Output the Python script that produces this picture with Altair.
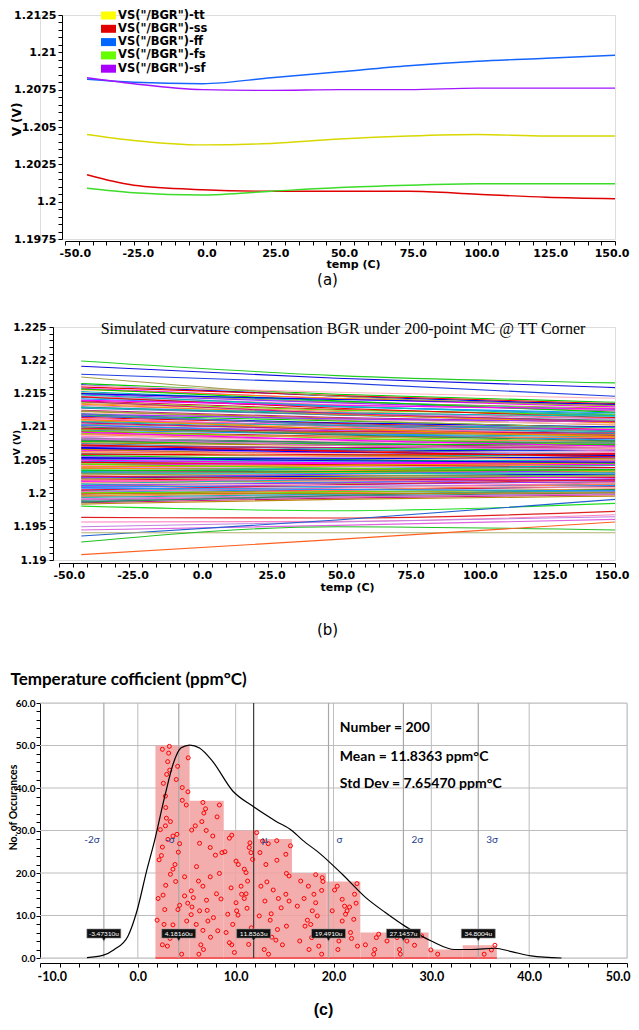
import altair as alt
import pandas as pd

# ------------------------------------------------------------------ fonts
FONT_A = "DejaVu Sans"
FONT_SERIF = "Liberation Serif"
FONT_C = "Lato"
FONT_C_AX = "Liberation Sans Narrow, Lato"

# ------------------------------------------------------------------ (a) process corners
corner_temps = [-42, -25, 0, 25, 50, 75, 100, 125, 150]
corner_names = ['VS("/BGR")-tt', 'VS("/BGR")-ss', 'VS("/BGR")-ff', 'VS("/BGR")-fs', 'VS("/BGR")-sf']
corner_colors = ["#D8D800", "#E00000", "#1464FF", "#3CDC28", "#A414FF"]
legend_swatch = ["#FFFF00", "#E00000", "#0066FF", "#66FF00", "#AA00FF"]
v_tt = [1.2045, 1.2041, 1.2038, 1.2039, 1.2042, 1.2044, 1.2045, 1.2044, 1.2044]
v_ss = [1.2018, 1.2011, 1.2008, 1.2007, 1.2007, 1.2007, 1.2005, 1.2003, 1.2002]
v_ff = [1.2082, 1.2080, 1.2079, 1.2083, 1.2087, 1.2091, 1.2094, 1.2096, 1.2098]
v_fs = [1.2009, 1.2006, 1.20045, 1.2007, 1.20095, 1.2011, 1.2012, 1.2012, 1.2012]
v_sf = [1.2083, 1.2079, 1.2075, 1.20745, 1.2075, 1.2075, 1.2076, 1.2076, 1.2076]

# ------------------------------------------------------------------ (b) 200-point Monte Carlo
mc_title = "Simulated curvature compensation BGR under 200-point MC @ TT Corner"
mc_temps = [-42, 50, 150]
band_start = [
    1.2165, 1.2163, 1.2160, 1.2158, 1.2156, 1.2153, 1.2151, 1.2149, 1.2146, 1.2144,
    1.2142, 1.2139, 1.2137, 1.2135, 1.2132, 1.2130, 1.2128, 1.2125, 1.2123, 1.2121,
    1.2118, 1.2116, 1.2114, 1.2111, 1.2109, 1.2107, 1.2104, 1.2102, 1.2100, 1.2097,
    1.2095, 1.2093, 1.2090, 1.2088, 1.2086, 1.2083, 1.2081, 1.2079, 1.2076, 1.2074,
    1.2072, 1.2069, 1.2067, 1.2065, 1.2062, 1.2060, 1.2058, 1.2055, 1.2053, 1.2051,
    1.2048, 1.2046, 1.2044, 1.2041, 1.2039, 1.2037, 1.2034, 1.2032, 1.2030, 1.2027,
    1.2025, 1.2023, 1.2020, 1.2018, 1.2016, 1.2013, 1.2011, 1.2009, 1.2006, 1.2004,
    1.2002, 1.1999, 1.1997, 1.1995, 1.1992, 1.1990, 1.1988, 1.1986, 1.1984,
    1.2162, 1.2157, 1.2150, 1.2145, 1.2140, 1.2134, 1.2129, 1.2124, 1.2119, 1.2113,
    1.2108, 1.2103, 1.2098, 1.2094, 1.2089, 1.2084, 1.2080, 1.2075, 1.2071, 1.2066,
    1.2061, 1.2057, 1.2052, 1.2047, 1.2043, 1.2038, 1.2033, 1.2029, 1.2024, 1.2019,
    1.2015, 1.2010, 1.2005, 1.2001, 1.1996, 1.1991, 1.1987,
    1.2117, 1.2106, 1.2096, 1.2087, 1.2078, 1.2068, 1.2059, 1.2050, 1.2040, 1.2031,
    1.2022, 1.2012, 1.2003, 1.1994, 1.2008, 1.2026, 1.2044, 1.2063, 1.2082, 1.2100,
    1.2120, 1.2138, 1.2000, 1.2016, 1.2035, 1.2054, 1.2073, 1.2092, 1.2111, 1.2148,
]
band_mid = [
    1.2149, 1.2146, 1.2147, 1.2142, 1.2143, 1.2138, 1.2137, 1.2136, 1.2133, 1.2131,
    1.2130, 1.2126, 1.2125, 1.2123, 1.2121, 1.2118, 1.2118, 1.2114, 1.2113, 1.2111,
    1.2109, 1.2106, 1.2105, 1.2102, 1.2101, 1.2098, 1.2097, 1.2094, 1.2093, 1.2090,
    1.2089, 1.2086, 1.2085, 1.2081, 1.2081, 1.2077, 1.2076, 1.2073, 1.2072, 1.2069,
    1.2068, 1.2065, 1.2064, 1.2061, 1.2060, 1.2057, 1.2056, 1.2053, 1.2051, 1.2049,
    1.2047, 1.2045, 1.2044, 1.2041, 1.2040, 1.2037, 1.2036, 1.2033, 1.2032, 1.2029,
    1.2027, 1.2026, 1.2023, 1.2021, 1.2019, 1.2017, 1.2015, 1.2013, 1.2011, 1.2009,
    1.2006, 1.2005, 1.2002, 1.2001, 1.1998, 1.1996, 1.1995, 1.1993, 1.1991,
    1.2152, 1.2139, 1.2141, 1.2128, 1.2132, 1.2119, 1.2121, 1.2110, 1.2112, 1.2100,
    1.2102, 1.2091, 1.2093, 1.2083, 1.2085, 1.2074, 1.2077, 1.2066, 1.2069, 1.2058,
    1.2060, 1.2051, 1.2052, 1.2043, 1.2045, 1.2035, 1.2037, 1.2027, 1.2029, 1.2019,
    1.2021, 1.2011, 1.2013, 1.2003, 1.2005, 1.1995, 1.1997,
    1.2104, 1.2096, 1.2091, 1.2078, 1.2074, 1.2062, 1.2058, 1.2046, 1.2042, 1.2030,
    1.2024, 1.2016, 1.2008, 1.1999, 1.2006, 1.2022, 1.2038, 1.2056, 1.2072, 1.2088,
    1.2102, 1.2120, 1.2000, 1.2012, 1.2033, 1.2049, 1.2063, 1.2080, 1.2097, 1.2131,
]
band_end = [
    1.2137, 1.2133, 1.2135, 1.2130, 1.2132, 1.2126, 1.2128, 1.2124, 1.2125, 1.2119,
    1.2121, 1.2117, 1.2118, 1.2113, 1.2112, 1.2110, 1.2107, 1.2107, 1.2103, 1.2104,
    1.2099, 1.2100, 1.2096, 1.2096, 1.2093, 1.2093, 1.2089, 1.2090, 1.2086, 1.2085,
    1.2082, 1.2083, 1.2078, 1.2079, 1.2075, 1.2074, 1.2071, 1.2071, 1.2067, 1.2068,
    1.2064, 1.2064, 1.2060, 1.2061, 1.2056, 1.2057, 1.2053, 1.2053, 1.2049, 1.2050,
    1.2045, 1.2046, 1.2042, 1.2043, 1.2038, 1.2039, 1.2035, 1.2036, 1.2032, 1.2032,
    1.2028, 1.2029, 1.2024, 1.2025, 1.2021, 1.2021, 1.2017, 1.2018, 1.2013, 1.2014,
    1.2010, 1.2010, 1.2006, 1.2007, 1.2003, 1.2001, 1.1999, 1.1998, 1.1996,
    1.2143, 1.2122, 1.2134, 1.2114, 1.2127, 1.2106, 1.2116, 1.2098, 1.2108, 1.2088,
    1.2099, 1.2080, 1.2091, 1.2073, 1.2084, 1.2066, 1.2077, 1.2058, 1.2070, 1.2052,
    1.2062, 1.2045, 1.2055, 1.2039, 1.2049, 1.2032, 1.2042, 1.2026, 1.2035, 1.2019,
    1.2028, 1.2012, 1.2021, 1.2005, 1.2014, 1.1999, 1.2006,
    1.2094, 1.2087, 1.2088, 1.2070, 1.2073, 1.2057, 1.2059, 1.2043, 1.2046, 1.2031,
    1.2027, 1.2022, 1.2016, 1.2004, 1.2004, 1.2019, 1.2034, 1.2050, 1.2064, 1.2079,
    1.2090, 1.2108, 1.2001, 1.2009, 1.2036, 1.2047, 1.2055, 1.2071, 1.2085, 1.2117,
]
band_palette = ["#00CC00", "#0000EE", "#EE0000", "#FF00FF", "#FF8C00", "#00BBBB",
                "#A0A040", "#9B30FF", "#FF69B4", "#20B2AA", "#1E90FF", "#DC143C",
                "#66DD00", "#FF7F50", "#DA70D6", "#2E8B57", "#4682B4", "#C71585",
                "#B8860B", "#FFB6C1"]
out_start = [1.2199, 1.2191, 1.2179, 1.2175, 1.1981, 1.1964, 1.1957, 1.1950, 1.1945, 1.1936, 1.1941, 1.1927, 1.1908]
out_mid = [1.2177, 1.2173, 1.2166, 1.2146, 1.1974, 1.1963, 1.1958, 1.1957, 1.1952, 1.1960, 1.1941, 1.1950, 1.1931]
out_end = [1.2166, 1.2159, 1.2146, 1.2132, 1.1985, 1.1973, 1.1968, 1.1965, 1.1961, 1.1991, 1.1941, 1.1945, 1.1957]
out_colors = ["#22CC22", "#1010DD", "#2040E0", "#A0A050", "#22DD22", "#E02020", "#FF80C0",
              "#C080E0", "#E060E0", "#2060D0", "#B0B070", "#20C020", "#FF6020"]

# ------------------------------------------------------------------ (c) histogram
hist_bin_start = [1.8, 5.29, 8.78, 12.27, 15.76, 19.25, 22.74, 26.23, 29.72, 33.21]
hist_bin_end = [5.29, 8.78, 12.27, 15.76, 19.25, 22.74, 26.23, 29.72, 33.21, 36.7]
hist_counts = [50, 37, 30, 28, 20, 18, 6, 6, 2, 3]
circle_x = [
    2.51, 3.22, 3.15, 3.05, 3.26, 2.95, 2.61, 2.82, 4.07, 3.93, 4.54, 4.54, 4.95, 5.15, 5.12, 2.85, 2.92,
    2.82, 3.33, 4.0, 3.08, 2.3, 2.17, 2.51, 2.41, 3.59, 4.27, 4.14, 3.8, 3.59, 3.33, 3.87, 2.85, 2.07,
    2.58, 2.75, 4.1, 1.97, 2.68, 3.59, 3.29, 2.51, 3.02, 3.46, 4.48, 4.78, 4.78, 4.27, 5.0, 5.1,
    6.65, 6.92, 6.75, 8.34, 8.1, 5.87, 6.54, 6.99, 5.5, 6.31, 7.4, 7.93, 8.34, 7.4, 6.65, 6.2, 5.46,
    5.67, 5.53, 5.45, 6.0, 6.31, 5.97, 6.65, 7.43, 6.44, 6.71, 7.02, 7.09, 8.04, 7.73, 6.24, 8.5, 7.16,
    8.17, 7.66, 8.6,
    8.9, 9.36, 9.6, 10.04, 10.27, 10.88, 11.06, 11.22, 11.39, 11.46, 11.57, 11.06, 10.61, 10.04, 10.1,
    10.24, 10.88, 9.7, 9.02, 9.36, 9.6, 9.87, 11.16, 11.73, 10.55, 9.53, 9.19, 11.6, 12.15, 11.33,
    12.48, 12.75, 13.33, 13.19, 12.58, 12.99, 13.84, 14.21, 14.37, 13.63, 13.53, 12.92, 13.36, 14.65,
    15.13, 15.13, 15.19, 15.46, 12.41, 14.27, 13.7, 14.11, 14.78, 15.19, 15.46, 15.6, 14.2, 13.09,
    16.99, 17.43, 18.0, 18.18, 17.83, 17.33, 17.67, 18.5, 18.79, 18.18, 18.85, 18.92, 18.79, 17.77,
    17.5, 18.34, 16.65, 16.3, 16.55, 17.09,
    20.11, 20.38, 20.89, 21.13, 21.64, 21.39, 22.15, 22.31, 22.4, 20.89, 21.74, 21.84, 20.55, 20.45,
    22.45, 22.07, 21.23, 19.87,
    23.26, 24.21, 24.11, 24.38, 24.62, 25.47,
    26.75, 26.83, 27.5, 28.28, 26.5, 29.0,
    29.95, 30.65,
    35.4, 36.14, 36.5,
]
circle_y = [
    49.1, 49.8, 48.2, 46.2, 44.2, 43.2, 41.1, 38.1, 45.1, 42.0, 40.1, 37.1, 36.0, 47.1, 39.1, 35.4, 32.9,
    31.1, 32.1, 29.1, 27.9, 30.2, 23.1, 26.1, 24.1, 28.7, 26.9, 24.9, 22.0, 20.9, 19.7, 18.0, 17.1, 14.0,
    14.8, 11.4, 11.4, 8.9, 7.9, 7.8, 4.6, 3.1, 2.8, 5.3, 0.9, 19.1, 14.6, 12.4, 8.7, 12.9,
    36.6, 35.1, 34.1, 36.0, 33.2, 31.1, 32.1, 30.0, 30.1, 27.0, 26.0, 24.2, 19.9, 19.1, 16.9, 18.1, 15.8,
    14.2, 12.0, 10.2, 21.5, 11.1, 7.9, 6.5, 4.9, 3.1, 2.0, 13.6, 11.2, 15.1, 9.5, 0.9, 13.9, 8.7,
    6.4, 28.7, 24.8,
    25.0, 28.2, 28.9, 22.8, 22.0, 20.9, 20.1, 18.1, 26.0, 27.1, 24.8, 15.1, 15.0, 13.0, 11.1,
    10.1, 14.0, 7.9, 6.0, 3.6, 3.1, 1.3, 11.7, 23.2, 16.9, 16.5, 10.3, 7.1, 29.5, 3.2,
    24.8, 27.5, 26.9, 17.9, 16.9, 13.4, 16.0, 23.0, 14.0, 10.4, 8.9, 2.0, 0.9, 11.8,
    15.0, 24.4, 19.9, 13.4, 9.9, 6.7, 4.9, 4.2, 3.1, 7.5, 19.3, 26.4, 27.6, 22.0,
    14.0, 16.9, 15.0, 13.0, 11.1, 8.9, 7.9, 2.8, 0.9, 19.6, 18.9, 18.0, 15.9, 4.8,
    2.0, 9.9, 18.1, 12.2, 4.0, 7.5,
    16.0, 16.9, 13.8, 12.2, 12.0, 11.1, 15.0, 12.9, 17.5, 8.7, 6.0, 4.6, 4.0, 2.0,
    2.8, 9.1, 10.3, 11.1,
    3.1, 2.0, 0.9, 4.8, 5.6, 4.0,
    2.0, 0.9, 4.0, 3.0, 4.8, 5.2,
    1.9, 0.9,
    0.9, 1.9, 3.0,
]
kde_x = [-5.2, -3.6, -2.4, -1.0, -0.1, 0.9, 1.7, 2.8, 3.6, 4.4, 5.3, 6.3, 7.6, 9.7, 11.7, 14.1,
         15.8, 16.8, 18.5, 20.9, 23.3, 25.3, 27.3, 30.0, 32.4, 34.1, 36.5, 38.2, 40.2, 43.3]
kde_y = [0.1, 0.6, 2.0, 5.2, 11.0, 20.5, 27.5, 38.5, 45.6, 49.4, 50.1, 49.4, 46.4, 39.3, 35.8, 32.2,
         29.9, 27.8, 24.8, 19.7, 14.2, 10.7, 7.5, 4.0, 2.0, 2.0, 2.3, 1.5, 0.5, 0.0]
sigma_values = [-3.47310, 4.18160, 11.8363, 19.4910, 27.1457, 34.8004]
sigma_names = ["-2σ", "-σ", "μ", "σ", "2σ", "3σ"]
sigma_callouts = ["-3.47310u", "4.18160u", "11.8363u", "19.4910u", "27.1457u", "34.8004u"]
sigma_side = ["left", "left", "right", "right", "right", "right"]
sigma_line_colors = ["#A8A8A8", "#A8A8A8", "#3A3A3A", "#A8A8A8", "#A8A8A8", "#A8A8A8"]
SIGMA_LABEL_Y = 27.8
CALLOUT_Y = 5.76
grid_x_c = [0, 10, 20, 30, 40, 50]
grid_y_c = [0, 10, 20, 30, 40, 50, 60]
stats_lines = ["Number = 200", "Mean = 11.8363 ppm°C", "Std Dev = 7.65470 ppm°C"]
stats_x = [20.65, 20.65, 20.65]
stats_y = [54.2, 47.4, 40.9]

# ================================================================== common axis bits
def base_axis(**kw):
    d = dict(tickSize=4, tickColor="black", domainColor="black", tickWidth=1, domainWidth=1,
             labelColor="black", labelFontWeight="bold", labelOverlap=False, labelFlush=False,
             grid=False, titleColor="black", titleFontWeight="bold", titleBaseline="middle",
             titleAlign="center")
    d.update(kw)
    return alt.Axis(**d)

temp_ticks = [-50 + 5 * i for i in range(41)]
temp_label = "datum.value % 25 == 0 ? replace(format(datum.value, '.1f'), '\u2212', '-') : ''"

# ================================================================== panel (a)
W_A, H_A = 575, 224
rows = []
for name, vals in zip(corner_names, [v_tt, v_ss, v_ff, v_fs, v_sf]):
    for t, v in zip(corner_temps, vals):
        rows.append({"temp": t, "v": v, "series": name})
df_a = pd.DataFrame(rows)
ya_ticks = [round(1.1975 + 0.0005 * i, 4) for i in range(31)]

lines_a = alt.Chart(df_a).mark_line(strokeWidth=1.4, interpolate="monotone").encode(
    x=alt.X("temp:Q", scale=alt.Scale(domain=[-50, 150], range=[25, 575], nice=False, zero=False),
            axis=base_axis(values=temp_ticks, labelExpr=temp_label, offset=2, labelFont=FONT_A,
                           labelFontSize=11, labelPadding=2, labelOffset=4, labelFlush=True,
                           labelFlushOffset=10, title="temp (C)",
                           titleFont=FONT_A, titleFontSize=11, titleX=313, titleY=23)),
    y=alt.Y("v:Q", scale=alt.Scale(domain=[1.1975, 1.2125], nice=False, zero=False),
            axis=base_axis(values=ya_ticks,
                           labelExpr="abs(datum.value*400 - round(datum.value*400)) < 0.01 ? format(datum.value, '.5~g') : ''",
                           offset=-22, labelFont=FONT_A, labelFontSize=11, labelPadding=2,
                           title="V (V)", titleFont=FONT_A, titleFontSize=12, titleX=-46, titleY=104,
                           titleAngle=270)),
    color=alt.Color("series:N", scale=alt.Scale(domain=corner_names, range=corner_colors), legend=None),
)

# hand-placed legend block (pixel layout)
LEG_X0, LEG_Y0, LEG_DY = 61, 0.5, 13.3
legend_layers = []
for i, (name, col) in enumerate(zip(corner_names, legend_swatch)):
    yc = LEG_Y0 + i * LEG_DY
    d = pd.DataFrame({"name": [name]})
    legend_layers.append(alt.Chart(d).mark_rect(color=col).encode(
        x=alt.value(LEG_X0), x2=alt.value(LEG_X0 + 15), y=alt.value(yc - 4), y2=alt.value(yc + 4)))
    legend_layers.append(alt.Chart(d).mark_text(
        align="left", baseline="middle", font=FONT_A, fontSize=11.5, fontWeight="bold", color="black"
    ).encode(x=alt.value(LEG_X0 + 17), y=alt.value(yc), text="name:N"))

chart_a = alt.layer(lines_a, *legend_layers).properties(
    width=W_A, height=H_A,
    title=alt.TitleParams("(a)", orient="bottom", anchor="middle", offset=4, font=FONT_A,
                          fontSize=15, fontWeight="normal", color="black"))

# ================================================================== panel (b)
W_B, H_B = 575, 233
rows = []
all_s = band_start + out_start
all_m = band_mid + out_mid
all_e = band_end + out_end
all_c = [band_palette[i % len(band_palette)] for i in range(len(band_start))] + out_colors
for i, (s, m, e, c) in enumerate(zip(all_s, all_m, all_e, all_c)):
    for t, v in zip(mc_temps, [s, m, e]):
        rows.append({"temp": t, "v": v, "run": i, "col": c})
df_b = pd.DataFrame(rows)
yb_ticks = [round(1.19 + 0.001 * i, 3) for i in range(36)]

xb = alt.X("temp:Q", scale=alt.Scale(domain=[-50, 150], range=[19, 575], nice=False, zero=False),
           axis=base_axis(values=temp_ticks, labelExpr=temp_label, offset=3, labelFont=FONT_A,
                          labelFontSize=11, labelPadding=2, labelOffset=4, labelFlush=True,
                          labelFlushOffset=10, title="temp (C)",
                          titleFont=FONT_A, titleFontSize=11, titleX=307, titleY=24))
yb = alt.Y("v:Q", scale=alt.Scale(domain=[1.19, 1.225], nice=False, zero=False),
           axis=base_axis(values=yb_ticks,
                          labelExpr="abs(datum.value*200 - round(datum.value*200)) < 0.01 ? format(datum.value, '.4~g') : ''",
                          offset=-13, labelFont=FONT_A, labelFontSize=10.5, labelPadding=3,
                          title="V (V)", titleFont=FONT_A, titleFontSize=9, titleX=-37, titleY=115,
                          titleAngle=270))
lines_b = alt.Chart(df_b).mark_line(strokeWidth=1.1, interpolate="monotone").encode(
    x=xb, y=yb, color=alt.Color("col:N", scale=None), detail="run:N")
head_b = alt.Chart(pd.DataFrame({"t": [mc_title]})).mark_text(
    font=FONT_SERIF, fontSize=16, color="black", align="center", baseline="middle"
).encode(x=alt.value(303), y=alt.value(2), text="t:N")
chart_b = alt.layer(lines_b, head_b).properties(
    width=W_B, height=H_B,
    title=alt.TitleParams("(b)", orient="bottom", anchor="middle", offset=31, font=FONT_A,
                          fontSize=15, fontWeight="normal", color="black"))

# ================================================================== panel (c)
W_C, H_C = 587, 255
xs_c = alt.Scale(domain=[-10, 50], nice=False, zero=False)
ys_c = alt.Scale(domain=[0, 60], nice=False, zero=False)
axis_cx = base_axis(values=[-10 + 2 * i for i in range(31)],
                    labelExpr="datum.value % 10 == 0 ? replace(format(datum.value, '.1f'), '\u2212', '-') : ''",
                    offset=5, labelFont=FONT_C_AX, labelFontSize=12.5, labelPadding=3,
                    labelFlush=True, labelFlushOffset=3,
                    title="(c)", titleFont="Liberation Sans", titleFontSize=16, titleX=283, titleY=46)
axis_cy = base_axis(values=[2 * i for i in range(31)],
                    labelExpr="datum.value % 10 == 0 ? format(datum.value, '.1f') : ''",
                    offset=0, labelFont=FONT_C_AX, labelFontSize=10, labelPadding=1,
                    title="No. of Occurances", titleFont=FONT_C, titleFontSize=10.5, titleX=-26.5,
                    titleY=104, titleAngle=270)

def cx(f):
    return alt.X(f, scale=xs_c, axis=axis_cx)

def cy(f):
    return alt.Y(f, scale=ys_c, axis=axis_cy)

df_bins = pd.DataFrame({"b0": hist_bin_start, "b1": hist_bin_end, "count": hist_counts,
                        "base": [0] * len(hist_counts)})
df_circ = pd.DataFrame({"x": circle_x, "y": circle_y})
df_kde = pd.DataFrame({"x": kde_x, "y": kde_y})
df_sig = pd.DataFrame({"x": sigma_values, "name": sigma_names, "call": sigma_callouts,
                       "side": sigma_side, "col": sigma_line_colors,
                       "ly": [SIGMA_LABEL_Y] * 6, "cyv": [CALLOUT_Y] * 6})
df_gx = pd.DataFrame({"x": grid_x_c})
df_gy = pd.DataFrame({"y": grid_y_c})
df_st = pd.DataFrame({"x": stats_x, "y": stats_y, "t": stats_lines})

grid_v = alt.Chart(df_gx).mark_rule(color="#BDBDBD", strokeWidth=1).encode(x=cx("x:Q"))
grid_h = alt.Chart(df_gy).mark_rule(color="#BDBDBD", strokeWidth=1).encode(y=cy("y:Q"))
bars = alt.Chart(df_bins).mark_rect(color="#F3A2A2", opacity=0.88).encode(
    x=cx("b0:Q"), x2="b1:Q", y=cy("count:Q"), y2="base:Q")
bars_edge = alt.Chart(df_bins).mark_rule(color="#F25C5C", strokeWidth=2).encode(
    x=cx("b0:Q"), x2="b1:Q", y=cy("base:Q"))
sig_rules = alt.Chart(df_sig).mark_rule(strokeWidth=1.2).encode(
    x=cx("x:Q"), color=alt.Color("col:N", scale=None))
circles = alt.Chart(df_circ).mark_point(shape="circle", filled=False, color="#FF0000", size=16,
                                        strokeWidth=1, opacity=1).encode(x=cx("x:Q"), y=cy("y:Q"))
kde = alt.Chart(df_kde).mark_line(color="black", strokeWidth=1.2, interpolate="monotone").encode(
    x=cx("x:Q"), y=cy("y:Q"))
sig_lab_l = alt.Chart(df_sig).transform_filter("datum.side == 'left'").mark_text(
    font=FONT_C, fontSize=10, color="#1F3F8F", align="right", baseline="middle", dx=-4
).encode(x=cx("x:Q"), y=cy("ly:Q"), text="name:N")
sig_lab_r = alt.Chart(df_sig).transform_filter("datum.side == 'right'").mark_text(
    font=FONT_C, fontSize=10, color="#1F3F8F", align="left", baseline="middle", dx=8
).encode(x=cx("x:Q"), y=cy("ly:Q"), text="name:N")
callout_box = alt.Chart(df_sig).mark_point(
    shape="M-1,-0.27L1,-0.27L1,0.27L0.1,0.27L0,0.45L-0.1,0.27L-1,0.27Z", filled=True,
    fill="#111111", stroke="#999999", strokeWidth=0.6, size=1156, opacity=1
).encode(x=cx("x:Q"), y=cy("cyv:Q"))
callout_txt = alt.Chart(df_sig).mark_text(
    font=FONT_C_AX, fontSize=6.5, color="white", align="center", baseline="middle"
).encode(x=cx("x:Q"), y=cy("cyv:Q"), text="call:N")
stats = alt.Chart(df_st).mark_text(
    font=FONT_C, fontSize=14, fontWeight="bold", color="black", align="left", baseline="middle"
).encode(x=cx("x:Q"), y=cy("y:Q"), text="t:N")

chart_c = alt.layer(grid_v, grid_h, bars, bars_edge, sig_rules, circles, kde, sig_lab_l, sig_lab_r,
                    callout_box, callout_txt, stats).properties(
    width=W_C, height=H_C,
    title=alt.TitleParams("Temperature cofficient (ppm°C)", anchor="start", offset=9, dx=2,
                          font=FONT_C, fontSize=17, fontWeight="bold", color="black"))

chart = alt.vconcat(chart_a, chart_b, chart_c, spacing=31).properties(
    padding={"left": 0, "right": 0, "top": 0, "bottom": 0}
).configure_view(stroke=None).configure(background="white")

chart.save("out.html", embed_options={"renderer": "svg", "actions": False})
